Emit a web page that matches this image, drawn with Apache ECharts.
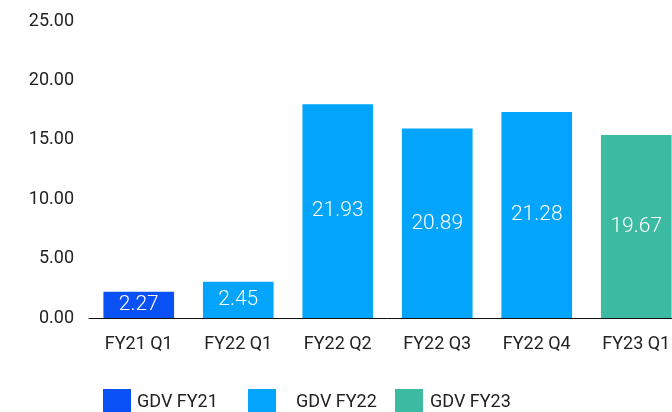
<!DOCTYPE html>
<html>
<head>
<meta charset="utf-8">
<script src="https://cdn.jsdelivr.net/npm/echarts@6/dist/echarts.min.js"></script>
<style>
  html, body { margin: 0; padding: 0; background: #fff; overflow: hidden; }
  /* the right-most bar runs past the picture's edge, so the canvas is a bit wider than the window */
  #chart { width: 690px; height: 412px; }
</style>
</head>
<body>
<div id="chart"></div>
<script>
// categories on the x axis
var quarters = ['FY21 Q1', 'FY22 Q1', 'FY22 Q2', 'FY22 Q3', 'FY22 Q4', 'FY23 Q1'];

// bar heights as drawn on the axis, one array per series ('-' = no bar)
var gdvFY21 = [2.2, '-', '-', '-', '-', '-'];
var gdvFY22 = ['-', 3.05, 18.0, 15.95, 17.35, '-'];
var gdvFY23 = ['-', '-', '-', '-', '-', 15.4];

// the numbers printed inside the bars
var barLabels = ['2.27', '2.45', '21.93', '20.89', '21.28', '19.67'];

var yTicks = [0, 5, 10, 15, 20, 25];

var colors = {
    'GDV FY21': '#0a51f5',
    'GDV FY22': '#03a4fb',
    'GDV FY23': '#3dbaa2'
};

var font = 'Roboto, "Noto Sans", sans-serif';

function makeSeries(name, data) {
    return {
        name: name,
        type: 'bar',
        stack: 'gdv',
        barWidth: '71%',
        data: data,
        itemStyle: { color: colors[name] },
        label: {
            show: true,
            position: 'inside',
            color: '#fff',
            fontFamily: font,
            fontWeight: 300,
            fontSize: 21,
            formatter: function (p) {
                return barLabels[p.dataIndex];
            }
        }
    };
}

function makeLegend(name, left, pad) {
    return {
        data: [name],
        left: left,
        top: 389,
        padding: 0,
        itemWidth: 28,
        itemHeight: 26,
        itemGap: 0,
        icon: 'rect',
        textStyle: {
            fontFamily: font,
            fontSize: 18,
            color: '#222',
            padding: [0, 0, 0, pad]
        }
    };
}

var myChart = echarts.init(document.getElementById('chart'));
var option = {
    animation: false,
    backgroundColor: '#fff',
    legend: [
        makeLegend('GDV FY21', 103, 1),
        makeLegend('GDV FY22', 248, 15),
        makeLegend('GDV FY23', 395, 2)
    ],
    grid: {
        left: 89,
        right: 4,
        top: 21,
        bottom: 94,
        containLabel: false
    },
    xAxis: {
        type: 'category',
        data: quarters,
        axisLine: { lineStyle: { color: '#111', width: 1 } },
        axisTick: { show: false },
        axisLabel: {
            margin: 17,
            fontFamily: font,
            fontSize: 18,
            color: '#222'
        }
    },
    yAxis: {
        type: 'value',
        min: yTicks[0],
        max: yTicks[yTicks.length - 1],
        interval: 5,
        axisLine: { show: false },
        axisTick: { show: false },
        splitLine: { show: false },
        axisLabel: {
            margin: 15,
            fontFamily: font,
            fontSize: 18,
            color: '#222',
            formatter: function (v) { return v.toFixed(2); }
        }
    },
    series: [
        makeSeries('GDV FY21', gdvFY21),
        makeSeries('GDV FY22', gdvFY22),
        makeSeries('GDV FY23', gdvFY23)
    ]
};
myChart.setOption(option);
</script>
</body>
</html>
